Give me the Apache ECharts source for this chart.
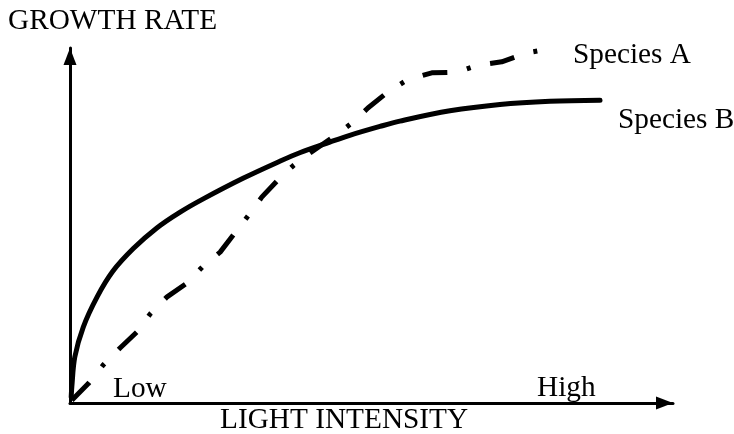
<!DOCTYPE html>
<html>
<head>
<meta charset="utf-8">
<script src="https://cdn.jsdelivr.net/npm/echarts@6/dist/echarts.min.js"></script>
<style>html,body{margin:0;padding:0;background:#fff;}#c{width:734px;height:434px;}</style>
</head>
<body>
<div id="c"></div>
<script>
// Light intensity (0 = low .. 100 = high) and growth rate (0..100)
const speciesBx = [0.2, 0.3, 0.8, 2.2, 4.5, 7.1, 10.5, 14.4, 18.2, 22.1, 28.7, 34.8, 38.1, 43.1, 46.4, 51.4, 54.7, 63.0, 71.3, 79.6, 87.9];
const speciesBy = [1.7, 4.5, 13.0, 21.4, 29.9, 37.1, 43.5, 49.3, 53.7, 57.5, 63.3, 68.1, 70.5, 73.5, 75.4, 77.9, 79.4, 82.3, 84.1, 85.0, 85.3];
const speciesAx = [0.3, 3.0, 5.5, 8.3, 11.1, 13.3, 16.1, 19.4, 22.1, 24.9, 27.7, 29.9, 31.8, 34.8, 37.0, 39.8, 43.6, 46.8, 49.4, 52.7, 55.9, 60.0, 64.2, 67.8, 71.6, 75.8, 79.3];
const speciesAy = [0.8, 5.4, 10.7, 15.5, 20.0, 25.1, 29.9, 33.8, 38.6, 42.5, 48.7, 53.5, 58.0, 63.4, 66.8, 70.4, 74.9, 78.9, 83.1, 87.6, 91.0, 93.0, 93.2, 95.2, 96.1, 98.6, 99.7];
const seriesNames = ['Species A', 'Species B'];
const xTickLabels = ['Low', 'High'];
const axisTitles = ['LIGHT INTENSITY', 'GROWTH RATE'];

const zip = (xs, ys) => xs.map((x, i) => [x, ys[i]]);
const FONT = '"Liberation Serif", "Times New Roman", serif';
const FS = 29.3;
const txt = (s, x, y) => ({
  type: 'text', x: x, y: y,
  style: { text: s, font: FS + 'px ' + FONT, fill: '#000', verticalAlign: 'middle', align: 'left' }
});

const chart = echarts.init(document.getElementById('c'), null, { renderer: 'canvas' });
const axisCommon = {
  type: 'value', min: 0, max: 100,
  axisLine: { show: true, onZero: false, symbol: ['none', 'triangle'], symbolSize: [13, 17], symbolOffset: [0, -8.5],
    lineStyle: { color: '#000', width: 3 } },
  axisTick: { show: false }, axisLabel: { show: false }, splitLine: { show: false }
};
chart.setOption({
  animation: false,
  backgroundColor: '#fff',
  grid: { left: 70, right: 61, top: 48, bottom: 31, containLabel: false },
  xAxis: Object.assign({}, axisCommon),
  yAxis: Object.assign({}, axisCommon),
  series: [
    { name: seriesNames[0], type: 'line', data: zip(speciesAx, speciesAy), showSymbol: false, smooth: false,
      lineStyle: { color: '#000', width: 5, type: [25, 20, 4, 20], cap: 'butt', join: 'round' } },
    { name: seriesNames[1], type: 'line', data: zip(speciesBx, speciesBy), showSymbol: false, smooth: 0.35,
      lineStyle: { color: '#000', width: 5, type: 'solid', cap: 'round', join: 'round' } }
  ],
  graphic: [
    txt(axisTitles[1], 8, 21.4),
    txt(seriesNames[0], 573, 55.4),
    txt(seriesNames[1], 618, 120.4),
    txt(xTickLabels[0], 113, 389.4),
    txt(xTickLabels[1], 537, 388.4),
    txt(axisTitles[0], 220, 420.4)
  ]
});
</script>
</body>
</html>
